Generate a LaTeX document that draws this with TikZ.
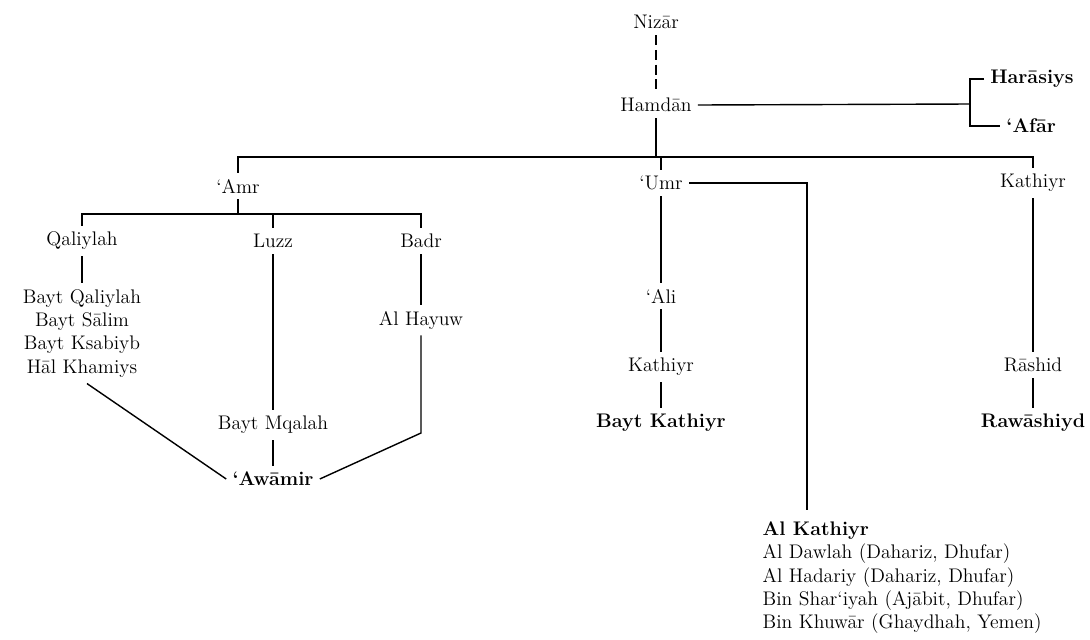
\documentclass[tikz,border=0pt]{standalone}
\usepackage{fontspec}
\usepackage{tikz}
\usetikzlibrary{positioning}

\begin{document}
\begin{tikzpicture}[x=0.025cm, y=-0.025cm,
    font=\fontsize{14}{16.6}\selectfont,
    every node/.style={inner sep=4pt},
    every path/.style={line width=1pt},
    clan/.style={font=\fontsize{14}{16.6}\selectfont\bfseries}]
  \path[use as bounding box, fill=white] (0,0) rectangle (1090,639);

  % top of the line
  \node (nizar) at (656,22) {Niz\=ar};
  \node (hamdan) at (656,105) {Hamd\=an};
  \node[clan, anchor=west] (haras) at (984,79) {Har\=asiys};
  \node[clan, anchor=west] (afar) at (1000,126) {‘Af\=ar};
  \coordinate (fork) at (970,104);
  \coordinate (topbar) at (0,157);

  \draw[dash pattern=on 7pt off 3.5pt] (nizar) -- (hamdan);
  \draw (hamdan.east) -- (fork);
  \draw (haras.west) -| (fork) |- (afar.west);

  % sons of Hamdan
  \node (amr) at (238,186) {‘Amr};
  \node (umr) at (661,183) {‘Umr};
  \node (kathR) at (1033,183) {Kathiyr};
  \draw (amr.north) -- (amr.north |- topbar) -- (kathR.north |- topbar) -- (kathR.north);
  \draw (hamdan.south) -- (hamdan.south |- topbar);
  \draw (umr.north) -- (umr.north |- topbar);

  % 'Amr branch
  \coordinate (lowbar) at (0,214);
  \node (qal) at (82,241) {Qaliylah};
  \node (luzz) at (273,241) {Luzz};
  \node (badr) at (421,241) {Badr};
  \draw (qal.north) -- (qal.north |- lowbar) -- (badr.north |- lowbar) -- (badr.north);
  \draw (luzz.north) -- (luzz.north |- lowbar);
  \draw (amr.south) -- (amr.south |- lowbar);

  \node[align=center, anchor=north] (bqal) at (82,283) {Bayt Qaliylah\\Bayt S\=alim\\Bayt Ksabiyb\\H\=al Khamiys};
  \node (hayuw) at (421,320) {Al Hayuw};
  \node (mqalah) at (273,425) {Bayt Mqalah};
  \node[clan] (awamir) at (273,479) {‘Aw\=amir};
  \coordinate (bend) at (421,433);

  \draw (qal) -- (bqal);
  \draw (badr) -- (hayuw);
  \draw (luzz) -- (mqalah);
  \draw (mqalah) -- (awamir);
  \draw (bqal.south) ++(5,0) -- (awamir.west);
  \draw (hayuw) -- (bend) -- (awamir.east);

  % 'Umr branch
  \node (ali) at (661,296) {‘Ali};
  \node (kathM) at (661,367) {Kathiyr};
  \node[clan] (bkath) at (661,423) {Bayt Kathiyr};
  \draw (umr) -- (ali);
  \draw (ali) -- (kathM);
  \draw (kathM) -- (bkath);

  \coordinate (drop) at (807,510);
  \node[align=left, anchor=north west, inner sep=0pt] (alkath) at (762,521)
    {\textbf{Al Kathiyr}\\Al Dawlah (Dahariz, Dhufar)\\Al Hadariy (Dahariz, Dhufar)\\Bin Shar‘iyah (Aj\=abit, Dhufar)\\Bin Khuw\=ar (Ghaydhah, Yemen)};
  \draw (umr.east) -| (drop);

  % Kathiyr branch
  \node (rashid) at (1033,365) {R\=ashid};
  \node[clan] (rawash) at (1033,423) {Raw\=ashiyd};
  \draw (kathR) -- (rashid);
  \draw (rashid) -- (rawash);
\end{tikzpicture}
\end{document}
